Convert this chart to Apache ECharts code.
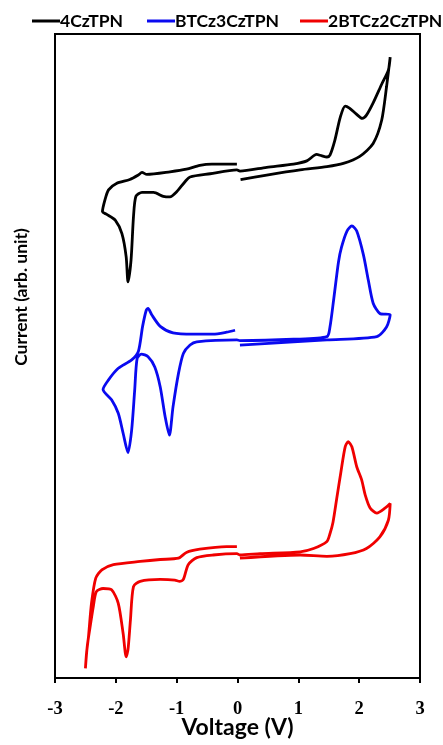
<!DOCTYPE html>
<html>
<head>
<meta charset="utf-8">
<script src="https://cdn.jsdelivr.net/npm/echarts@6/dist/echarts.min.js"></script>
<style>
  html, body { margin: 0; padding: 0; background: #fff; }
  #chart { width: 443px; height: 745px; }
</style>
</head>
<body>
<div id="chart"></div>
<script>
// Cyclic voltammograms, stacked with vertical offsets (arbitrary current units).
const seriesNames = ['4CzTPN', 'BTCz3CzTPN', '2BTCz2CzTPN'];
const seriesColors = ['#000000', '#0a0af0', '#f00000'];
const xTicks = [-3, -2, -1, 0, 1, 2, 3];

// [voltage (V), current (arb. unit, offset)]
const cv4CzTPN = [
  [0.05,77.4],[0.48,78.1],[1.03,78.9],[1.47,79.4],[1.74,79.9],[2.01,81.0],[2.23,83.0],[2.37,86.6],[2.45,91.8],[2.51,96.4],
  [2.48,94.4],[2.37,92.2],[2.23,89.3],[2.12,87.4],[2.05,86.9],[1.95,87.6],[1.84,88.5],[1.77,88.8],[1.69,87.1],[1.60,83.5],
  [1.52,81.2],[1.47,80.9],[1.38,81.1],[1.30,81.3],[1.14,80.3],[0.92,79.8],[0.48,79.3],[0.04,78.7],
  [-0.01,78.9],[-0.45,78.3],[-0.78,77.8],[-0.86,77.1],[-1.00,75.5],[-1.11,74.7],[-1.22,74.8],[-1.38,75.4],[-1.57,75.4],
  [-1.67,74.8],[-1.71,71.6],[-1.75,64.9],[-1.80,61.5],[-1.83,65.4],[-1.90,69.0],[-2.01,71.1],[-2.15,72.0],[-2.22,72.4],
  [-2.18,74.2],[-2.12,75.8],[-1.99,76.8],[-1.77,77.4],[-1.63,78.1],[-1.57,78.5],[-1.49,78.2],[-1.11,78.6],[-0.84,79.0],
  [-0.62,79.6],[-0.42,79.8],[-0.01,79.8]
];

const cvBTCz3CzTPN = [
  [0.04,51.7],[0.92,52.2],[1.47,52.5],[2.29,53.0],[2.45,54.5],[2.51,56.4],
  [2.34,56.6],[2.23,58.2],[2.15,61.8],[2.07,65.7],[1.96,69.4],[1.88,70.2],[1.80,69.4],[1.71,66.9],[1.66,64.6],[1.58,58.7],
  [1.52,54.5],[1.47,53.0],[0.92,52.6],[0.04,52.4],
  [-0.01,52.5],[-0.67,52.2],[-0.78,51.7],[-0.89,50.4],[-0.97,47.3],[-1.06,42.1],[-1.12,37.7],[-1.19,40.6],[-1.27,45.2],
  [-1.36,48.3],[-1.47,49.9],[-1.58,50.3],[-1.65,49.6],[-1.69,44.7],[-1.74,38.5],[-1.80,35.0],[-1.88,38.0],[-1.96,41.1],
  [-2.07,43.2],[-2.21,44.8],[-2.12,46.3],[-1.96,48.1],[-1.74,49.4],[-1.63,50.7],[-1.56,54.6],[-1.50,57.1],[-1.47,57.4],
  [-1.41,56.4],[-1.27,54.6],[-1.06,53.6],[-0.73,53.4],[-0.40,53.4],[-0.18,53.7],[-0.04,54.0]
];

const cv2BTCz2CzTPN = [
  [0.04,18.6],[1.03,19.1],[1.47,18.9],[1.85,19.3],[2.12,20.1],[2.34,21.9],[2.48,24.5],[2.51,27.1],
  [2.43,26.4],[2.29,25.6],[2.18,26.4],[2.10,28.4],[2.04,30.8],[1.96,32.8],[1.88,35.9],[1.82,36.7],[1.77,35.9],[1.70,32.0],
  [1.63,27.8],[1.57,24.2],[1.52,22.4],[1.47,21.2],[1.25,20.1],[1.03,19.6],[0.37,19.3],[0.04,19.1],
  [-0.01,19.3],[-0.40,19.1],[-0.67,18.7],[-0.81,17.6],[-0.89,15.3],[-0.95,15.0],[-1.03,15.2],[-1.27,15.3],[-1.60,15.0],
  [-1.71,14.2],[-1.76,9.0],[-1.80,4.4],[-1.83,3.3],[-1.88,6.9],[-1.96,11.6],[-2.07,13.7],[-2.21,13.9],[-2.32,13.4],
  [-2.37,11.1],[-2.43,7.5],[-2.47,4.9],[-2.50,1.5],[-2.48,4.0],[-2.45,6.4],[-2.40,11.6],[-2.33,15.5],[-2.23,16.8],
  [-2.04,17.6],[-1.60,18.1],[-1.27,18.4],[-0.97,18.6],[-0.84,19.5],[-0.62,20.0],[-0.18,20.4],[-0.01,20.4]
];

const curves = [cv4CzTPN, cvBTCz3CzTPN, cv2BTCz2CzTPN];
const legendLefts = [32, 147, 300];

const titleFont = 'Lato, "Liberation Sans", sans-serif';

const chart = echarts.init(document.getElementById('chart'), null, { renderer: 'canvas' });

// one legend block per series so the three entries sit on a single row
const legends = seriesNames.map((name, i) => ({
  data: [name],
  top: 12,
  left: legendLefts[i],
  padding: 0,
  itemWidth: 28,
  itemHeight: 3,
  icon: 'rect',
  selectedMode: false,
  textStyle: {
    fontFamily: titleFont,
    fontWeight: 'bold',
    fontSize: 17.5,
    color: '#000',
    padding: [0, 0, 0, -5]
  }
}));

chart.setOption({
  animation: false,
  backgroundColor: '#ffffff',
  color: seriesColors,
  legend: legends,
  grid: {
    left: 55,
    right: 23,
    top: 34,
    bottom: 67,
    show: true,
    borderColor: '#000',
    borderWidth: 2,
    containLabel: false,
    outerBoundsMode: 'none'
  },
  xAxis: {
    type: 'value',
    min: xTicks[0],
    max: xTicks[xTicks.length - 1],
    interval: 1,
    name: 'Voltage (V)',
    nameLocation: 'middle',
    nameGap: 38,
    nameMoveOverlap: false,
    nameTextStyle: {
      fontFamily: titleFont,
      fontWeight: 'bold',
      fontSize: 23,
      color: '#000'
    },
    axisLine: { show: true, onZero: false, lineStyle: { color: '#000', width: 2 } },
    axisTick: { show: true, inside: false, length: 5, lineStyle: { color: '#000', width: 2 } },
    axisLabel: {
      margin: 22,
      fontFamily: '"Liberation Serif", "Times New Roman", serif',
      fontWeight: 'bold',
      fontSize: 18.5,
      color: '#000',
      formatter: v => String(v)
    },
    splitLine: { show: false }
  },
  yAxis: {
    type: 'value',
    min: 0,
    max: 100,
    name: 'Current (arb. unit)',
    nameLocation: 'middle',
    nameRotate: 90,
    nameGap: 25,
    nameMoveOverlap: false,
    nameTextStyle: {
      fontFamily: titleFont,
      fontWeight: 'bold',
      fontSize: 17.5,
      color: '#000',
      padding: [0, 0, 0, 118]
    },
    axisLine: { show: false },
    axisTick: { show: false },
    axisLabel: { show: false },
    splitLine: { show: false }
  },
  series: seriesNames.map((name, i) => ({
    name: name,
    type: 'line',
    data: curves[i],
    showSymbol: false,
    smooth: 0.25,
    lineStyle: { width: 2.8, color: seriesColors[i] },
    itemStyle: { color: seriesColors[i] }
  }))
});
</script>
</body>
</html>
